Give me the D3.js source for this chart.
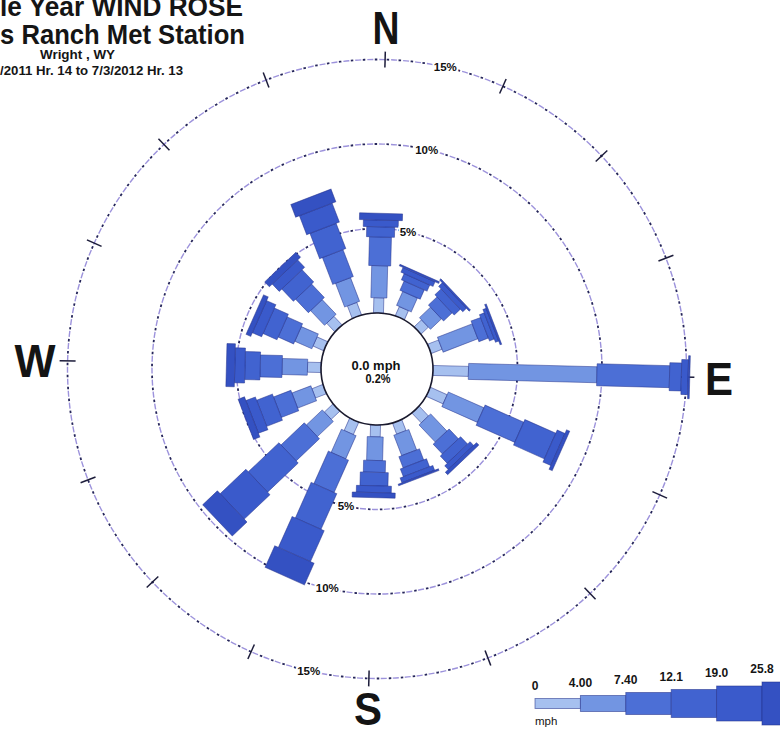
<!DOCTYPE html>
<html>
<head>
<meta charset="utf-8">
<script src="https://cdn.jsdelivr.net/npm/d3@7/dist/d3.min.js"></script>
<style>
  html, body { margin: 0; padding: 0; background: #fff; }
  svg { display: block; }
  text { font-family: "Liberation Sans", Arial, sans-serif; }
</style>
</head>
<body>
<svg id="rose" width="780" height="732"></svg>
<script>
// Wind directions, clockwise from north
const directions = ["N", "NNE", "NE", "ENE", "E", "ESE", "SE", "SSE",
                    "S", "SSW", "SW", "WSW", "W", "WNW", "NW", "NNW"];

// Frequency (%) of each wind speed class per direction
const speed0to4     = [0.9, 0.6, 0.6, 0.7, 2.1, 1.1, 0.8, 0.7, 0.7, 0.8, 0.7, 0.7, 0.8, 0.7, 0.7, 0.8];
const speed4to7     = [1.9, 0.9, 0.9, 2.2, 7.6, 2.3, 1.4, 1.3, 1.4, 1.5, 1.3, 1.2, 1.5, 1.1, 1.2, 1.5];
const speed7to12    = [1.7, 0.6, 0.7, 0.6, 4.3, 2.5, 0.8, 0.7, 0.7, 2.1, 1.9, 1.1, 1.3, 1.0, 1.1, 1.7];
const speed12to19   = [0.6, 0.4, 0.5, 0.3, 0.7, 2.0, 0.6, 0.5, 0.8, 2.3, 2.5, 1.0, 0.9, 0.9, 1.0, 1.6];
const speed19to26   = [0.4, 0.3, 0.3, 0.2, 0.4, 0.5, 0.3, 0.3, 0.4, 2.0, 2.1, 0.6, 0.6, 0.6, 0.6, 1.2];
const speed26plus   = [0.4, 0.1, 0.1, 0.1, 0.1, 0.2, 0.2, 0.1, 0.3, 1.4, 1.2, 0.4, 0.5, 0.3, 0.4, 0.8];

const speedClasses = ["0-4.00", "4.00-7.40", "7.40-12.1", "12.1-19.0", "19.0-25.8", "25.8+"];
const speedSeries  = [speed0to4, speed4to7, speed7to12, speed12to19, speed19to26, speed26plus];
const legendTicks  = ["0", "4.00", "7.40", "12.1", "19.0", "25.8"];
const ringPercents = [5, 10, 15];
const calmSpeed = "0.0 mph";
const calmPct   = "0.2%";

const titleLines = ["le Year WIND ROSE", "s Ranch Met Station", "Wright , WY", "/2011 Hr. 14 to 7/3/2012 Hr. 13"];

// ---- layout / style ----
const cx = 377, cy = 369, tilt = 1.5;
const calmR = 56, outerR = 309.5;
const classColors = ["#a6c0ef", "#7295e2", "#4c6fd6", "#4163d0", "#3a5acb", "#3451c2"];
const classWidths = [10, 16, 22, 28, 35, 43];

const svg = d3.select("#rose");

// table rows: one per direction, keyed by speed class
const table = directions.map((d, i) => {
  const row = { dir: d };
  speedClasses.forEach((c, k) => row[c] = speedSeries[k][i]);
  return row;
});
const stacked = d3.stack().keys(speedClasses)(table);

const r = d3.scaleLinear().domain([0, 15]).range([calmR, outerR]);
const angle = d3.scalePoint().domain(directions).range([0, 337.5]);

const chart = svg.append("g").attr("transform", `translate(${cx},${cy}) rotate(${tilt})`);

// percentage rings: lavender dashes with dark dots between
const rings = chart.append("g");
ringPercents.forEach(p => {
  rings.append("circle").attr("r", r(p)).attr("fill", "none")
    .attr("stroke", "#9d93dc").attr("stroke-width", 1.4).attr("stroke-dasharray", "6 6");
  rings.append("circle").attr("r", r(p)).attr("fill", "none")
    .attr("stroke", "#25255a").attr("stroke-width", 1.8)
    .attr("stroke-dasharray", "2.5 9.5").attr("stroke-dashoffset", -7.5);
});

// direction ticks on outer ring
chart.append("g").selectAll("line").data(directions).join("line")
  .attr("transform", d => `rotate(${angle(d)})`)
  .attr("x1", 0).attr("x2", 0)
  .attr("y1", -(outerR - 8)).attr("y2", -(outerR + 8))
  .attr("stroke", "#1c1c3a").attr("stroke-width", 1.5);

// petals
const petals = chart.append("g");
stacked.forEach((layer, k) => {
  petals.append("g").selectAll("rect").data(layer).join("rect")
    .attr("transform", d => `rotate(${angle(d.data.dir)})`)
    .attr("x", -classWidths[k] / 2)
    .attr("width", classWidths[k])
    .attr("y", d => -r(d[1]))
    .attr("height", d => Math.max(0, r(d[1]) - r(d[0])))
    .attr("fill", classColors[k])
    .attr("stroke", "#22308a").attr("stroke-opacity", 0.55).attr("stroke-width", 0.9);
});

// calm circle
chart.append("circle").attr("r", calmR).attr("fill", "#fff")
  .attr("stroke", "#1a1a2e").attr("stroke-width", 1.6);

// ring labels, placed half a sector off north and south
function polar(deg, rad) {
  const a = (deg + tilt) * Math.PI / 180;
  return [cx + rad * Math.sin(a), cy - rad * Math.cos(a)];
}
const ringLabels = svg.append("g");
ringPercents.forEach(p => {
  [11.25, 191.25].forEach(a => {
    const [x, y] = polar(a, r(p));
    ringLabels.append("text").attr("x", x).attr("y", y)
      .attr("text-anchor", "middle").attr("dominant-baseline", "central")
      .attr("font-size", 11.5).attr("font-weight", "bold").attr("fill", "#111")
      .attr("stroke", "#fff").attr("stroke-width", 4).attr("paint-order", "stroke")
      .text(p + "%");
  });
});

// compass letters
const compass = [["N", 0, 27, 0], ["E", 90, 28, 0], ["S", 180, 28, -3], ["W", 270, 41, 0]];
compass.forEach(([t, a, w, dy]) => {
  const [x, y] = polar(a, 342);
  svg.append("text").attr("x", x - w / 2).attr("y", y + 17 + dy)
    .attr("font-size", 46).attr("font-weight", "bold").attr("fill", "#141414")
    .attr("textLength", w).attr("lengthAdjust", "spacingAndGlyphs")
    .text(t);
});

// calm text
svg.append("text").attr("x", cx - 1).attr("y", cy + 0.5).attr("text-anchor", "middle")
  .attr("font-size", 12).attr("font-weight", "bold").attr("fill", "#111")
  .attr("textLength", 49).attr("lengthAdjust", "spacingAndGlyphs").text(calmSpeed);
svg.append("text").attr("x", cx + 1).attr("y", cy + 14).attr("text-anchor", "middle")
  .attr("font-size", 12).attr("font-weight", "bold").attr("fill", "#111")
  .attr("textLength", 25).attr("lengthAdjust", "spacingAndGlyphs").text(calmPct);

// title block
const title = svg.append("g").attr("fill", "#151515").attr("font-weight", "bold");
title.append("text").attr("x", 0).attr("y", 16).attr("font-size", 28)
  .attr("textLength", 243).attr("lengthAdjust", "spacingAndGlyphs").text(titleLines[0]);
title.append("text").attr("x", 0).attr("y", 44).attr("font-size", 27)
  .attr("textLength", 245).attr("lengthAdjust", "spacingAndGlyphs").text(titleLines[1]);
title.append("text").attr("x", 40).attr("y", 59).attr("font-size", 12.5)
  .attr("textLength", 75).attr("lengthAdjust", "spacingAndGlyphs").text(titleLines[2]);
title.append("text").attr("x", 0).attr("y", 75).attr("font-size", 12.5)
  .attr("textLength", 183).attr("lengthAdjust", "spacingAndGlyphs").text(titleLines[3]);

// speed legend
const legendX = d3.scalePoint().domain(legendTicks).range([535, 762]);
const legendEnd = 800, legendMid = 703.5;
const legend = svg.append("g");
legendTicks.forEach((t, k) => {
  const x0 = legendX(t);
  const x1 = k < legendTicks.length - 1 ? legendX(legendTicks[k + 1]) : legendEnd;
  const h = classWidths[k];
  legend.append("rect").attr("x", x0).attr("y", legendMid - h / 2)
    .attr("width", x1 - x0).attr("height", h).attr("fill", classColors[k])
    .attr("stroke", "#22308a").attr("stroke-opacity", 0.6).attr("stroke-width", 0.9);
  legend.append("text").attr("x", x0).attr("y", legendMid - h / 2 - 9)
    .attr("text-anchor", "middle").attr("font-size", 12).attr("font-weight", "bold")
    .attr("fill", "#151515").text(t);
});
legend.append("text").attr("x", 535).attr("y", 725).attr("font-size", 11.5)
  .attr("fill", "#151515").text("mph");
</script>
</body>
</html>
